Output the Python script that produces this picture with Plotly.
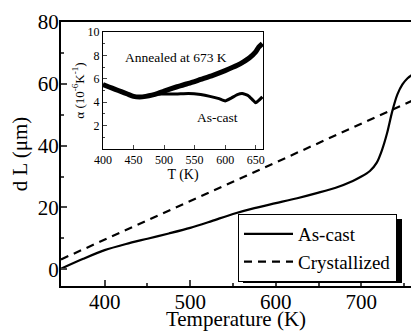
import plotly.graph_objects as go

# Main panel data
temp_ascast = [349, 375, 400, 425, 450, 475, 500, 525, 550, 575, 600, 625, 650, 670,
               690, 700, 710, 718, 724, 730, 736, 742, 748, 754, 760]
dl_ascast = [0.2, 3.4, 6.2, 8.2, 9.9, 11.6, 13.4, 15.6, 17.9, 19.8, 21.4, 23.0, 24.8, 26.4,
             28.6, 30.0, 31.8, 34.5, 38.5, 44.0, 51.0, 56.5, 59.8, 61.8, 63.0]
temp_cryst = [349, 450, 550, 650, 760]
dl_cryst = [3.2, 15.8, 28.3, 40.8, 54.6]

# Inset data
t_annealed = [400, 410, 420, 430, 440, 450, 460, 470, 480, 490, 500, 520, 540, 560, 580,
              600, 620, 630, 640, 650, 655, 661]
a_annealed = [5.5, 5.3, 5.1, 4.9, 4.7, 4.5, 4.45, 4.5, 4.6, 4.75, 4.95, 5.3, 5.6, 5.95, 6.3,
              6.7, 7.15, 7.45, 7.8, 8.3, 8.7, 9.0]
t_inset_ascast = [400, 410, 420, 430, 440, 450, 460, 470, 480, 490, 500, 520, 540, 560, 575,
                  590, 600, 610, 620, 628, 638, 645, 650, 655, 661]
a_inset_ascast = [5.5, 5.3, 5.1, 4.9, 4.7, 4.5, 4.45, 4.5, 4.6, 4.7, 4.7, 4.7, 4.75, 4.65, 4.5,
                  4.3, 4.1, 4.35, 4.65, 4.75, 4.55, 4.2, 3.95, 4.15, 4.45]

main_xticks = [400, 500, 600, 700]
main_yticks = [0, 20, 40, 60, 80]
inset_xticks = [400, 450, 500, 550, 600, 650]
inset_yticks = [2, 4, 6, 8, 10]

FONT = "Liberation Serif"

fig = go.Figure()
fig.add_trace(go.Scatter(x=temp_ascast, y=dl_ascast, mode="lines", name="As-cast",
                         line=dict(color="black", width=2.2, shape="spline", smoothing=0.8)))
fig.add_trace(go.Scatter(x=temp_cryst, y=dl_cryst, mode="lines", name="Crystallized",
                         line=dict(color="black", width=2.2, dash="8px,6px")))
fig.add_trace(go.Scatter(x=t_annealed, y=a_annealed, mode="lines", showlegend=False,
                         xaxis="x2", yaxis="y2",
                         line=dict(color="black", width=5, shape="spline", smoothing=0.6)))
fig.add_trace(go.Scatter(x=t_inset_ascast, y=a_inset_ascast, mode="lines", showlegend=False,
                         xaxis="x2", yaxis="y2",
                         line=dict(color="black", width=3, shape="spline", smoothing=0.4)))

W, H = 411, 331
L, R, T, B = 61, 0, 22, 45
pw, ph = W - L - R, H - T - B

def px(xp):
    return (xp - L) / pw

def py(yp):
    return (H - B - yp) / ph

fig.update_layout(
    width=W, height=H,
    margin=dict(l=L, r=R, t=T, b=B, autoexpand=False),
    paper_bgcolor="white", plot_bgcolor="white",
    font=dict(family=FONT, color="black"),
    showlegend=True,
    legend=dict(x=px(238), y=py(214), xanchor="left", yanchor="top",
                bgcolor="white", bordercolor="black", borderwidth=1,
                font=dict(family=FONT, size=19, color="black"),
                itemwidth=49, tracegroupgap=0),
    xaxis=dict(range=[349, 758], tickvals=main_xticks, ticks="inside", ticklen=6,
               tickwidth=1.5, showline=True, linewidth=2, linecolor="black", mirror=True,
               showgrid=False, zeroline=False, tickfont=dict(size=21, family=FONT),
               ticklabelstandoff=-4,
               minor=dict(ticks="inside", ticklen=3, dtick=50, tick0=350, showgrid=False),
               title=dict(text="Temperature (K)", font=dict(size=21, family=FONT), standoff=0)),
    yaxis=dict(range=[-5.4, 80], tickvals=main_yticks, ticks="inside", ticklen=6,
               tickwidth=1.5, showline=True, linewidth=2, linecolor="black",
               showgrid=False, zeroline=False, tickfont=dict(size=21, family=FONT),
               ticklabelstandoff=-4,
               minor=dict(ticks="inside", ticklen=3, dtick=10, tick0=0, showgrid=False),
               title=dict(text="d L (μm)", font=dict(size=21, family=FONT), standoff=4)),
    xaxis2=dict(domain=[px(103), px(263)], anchor="y2", range=[400, 662],
                tickvals=inset_xticks, ticks="inside", ticklen=4, showline=True,
                linewidth=1, linecolor="black", mirror=True, showgrid=False, zeroline=False,
                tickfont=dict(size=12, family=FONT), automargin=False,
                title=dict(text="T (K)", font=dict(size=14, family=FONT), standoff=0)),
    yaxis2=dict(domain=[py(149), py(32)], anchor="x2", range=[0, 10],
                tickvals=inset_yticks, ticks="inside", ticklen=4, showline=True,
                linewidth=1, linecolor="black", mirror=True, showgrid=False, zeroline=False,
                tickfont=dict(size=12, family=FONT), automargin=False,
                minor=dict(ticks="inside", ticklen=2, dtick=1, tick0=0, showgrid=False),
                title=dict(text="α (10<sup>-6</sup>K<sup>-1</sup>)",
                           font=dict(size=13, family=FONT), standoff=0)),
    shapes=[dict(type="rect", xref="paper", yref="paper",
                 x0=px(243), x1=px(402), y0=py(283), y1=py(219),
                 fillcolor="black", line=dict(width=0), layer="above")],
    annotations=[
        dict(text="Annealed at 673 K", x=px(176), y=py(57), xref="paper", yref="paper",
             xanchor="center", yanchor="middle",
             showarrow=False, font=dict(size=13.5, family=FONT)),
        dict(text="As-cast", x=px(217), y=py(117), xref="paper", yref="paper",
             xanchor="center", yanchor="middle",
             showarrow=False, font=dict(size=13.5, family=FONT)),
    ],
)

fig.write_html("out.html", config={"displayModeBar": False},
               post_script="document.body.style.margin='0';document.body.style.padding='0';")
